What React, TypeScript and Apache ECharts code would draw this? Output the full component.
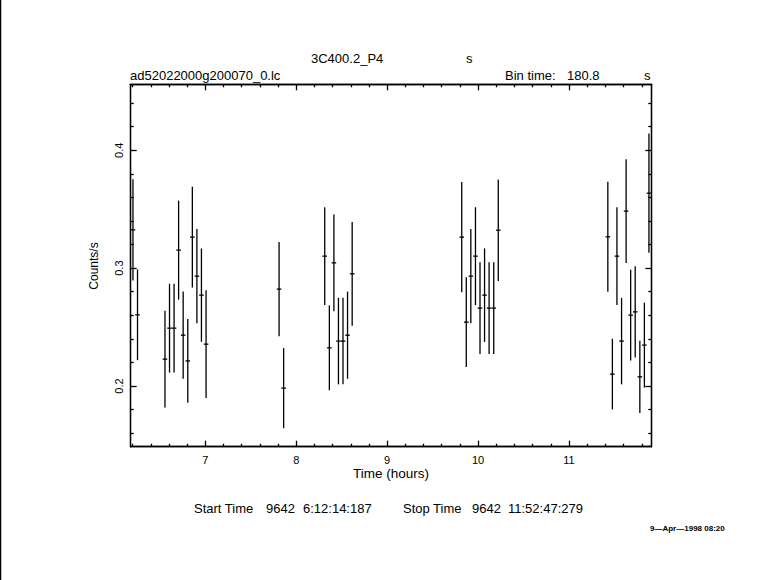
import React, { useEffect, useRef } from "react";
import * as echarts from "echarts";

// Time of bin centre (hours)
const times = [
  6.204, 6.254, 6.556, 6.606, 6.656, 6.706, 6.756, 6.807, 6.857, 6.907, 6.957, 7.008,
  7.811, 7.861,
  8.313, 8.364, 8.414, 8.464, 8.514, 8.564, 8.615,
  9.820, 9.870, 9.920, 9.971, 10.021, 10.071, 10.121, 10.172, 10.222,
  11.427, 11.477, 11.527, 11.578, 11.628, 11.678, 11.728, 11.779, 11.829, 11.879,
];
// Count rate (counts/s)
const rates = [
  0.3325, 0.2604, 0.2228, 0.2491, 0.2491, 0.3153, 0.2431, 0.2213, 0.3263, 0.2932, 0.2771, 0.2355,
  0.2822, 0.1982,
  0.3102, 0.2324, 0.3045, 0.2381, 0.2381, 0.2431, 0.2952,
  0.3263, 0.2542, 0.2932, 0.3102, 0.2661, 0.2771, 0.2661, 0.2661, 0.3322,
  0.3266, 0.2101, 0.3102, 0.2381, 0.3484, 0.2601, 0.2629, 0.2078, 0.2347, 0.3636,
];
// 1-sigma error on rate
const errors = [
  0.043, 0.0385, 0.041, 0.0377, 0.0377, 0.042, 0.037, 0.0355, 0.0427, 0.040, 0.0396, 0.0457,
  0.040, 0.034,
  0.0415, 0.036, 0.041, 0.0367, 0.0367, 0.037, 0.044,
  0.0467, 0.038, 0.040, 0.0415, 0.039, 0.0397, 0.039, 0.039, 0.043,
  0.0467, 0.030, 0.0415, 0.0367, 0.044, 0.0385, 0.0387, 0.0306, 0.036, 0.0506,
];

const xMajorTicks = [7, 8, 9, 10, 11];
const xMinorTicks = [
  6.2, 6.4, 6.6, 6.8, 7.2, 7.4, 7.6, 7.8, 8.2, 8.4, 8.6, 8.8, 9.2, 9.4, 9.6, 9.8,
  10.2, 10.4, 10.6, 10.8, 11.2, 11.4, 11.6, 11.8,
];
const yMajorTicks = [0.2, 0.3, 0.4];
const yMinorTicks = [
  0.16, 0.18, 0.22, 0.24, 0.26, 0.28, 0.32, 0.34, 0.36, 0.38, 0.42, 0.44,
];

const X_MIN = 6.179;
const X_MAX = 11.905;
const Y_MIN = 0.1485;
const Y_MAX = 0.456;
const HALF_BIN = 0.0251; // 180.8 s / 2 in hours

const FONT = "Liberation Sans";
const LW = 1.3;

export default function App() {
  const ref = useRef<HTMLDivElement>(null);

  useEffect(() => {
    if (!ref.current) return;
    const chart = echarts.init(ref.current, null, { renderer: "svg" });

    const mkX = (pos: "bottom" | "top", ticks: number[], len: number, labels: boolean) => ({
      type: "value",
      position: pos,
      min: X_MIN,
      max: X_MAX,
      axisLine: { show: true, onZero: false, lineStyle: { color: "#000", width: LW } },
      axisTick: {
        show: true,
        inside: true,
        length: len,
        customValues: ticks,
        lineStyle: { color: "#000", width: LW },
      },
      axisLabel: labels
        ? {
            show: true,
            customValues: ticks,
            margin: 8,
            color: "#000",
            fontFamily: FONT,
            fontSize: 11,
          }
        : { show: false },
      splitLine: { show: false },
    });
    const mkY = (pos: "left" | "right", ticks: number[], len: number, labels: boolean) => ({
      type: "value",
      position: pos,
      min: Y_MIN,
      max: Y_MAX,
      axisLine: { show: true, onZero: false, lineStyle: { color: "#000", width: LW } },
      axisTick: {
        show: true,
        inside: true,
        length: len,
        customValues: ticks,
        lineStyle: { color: "#000", width: LW },
      },
      axisLabel: labels
        ? {
            show: true,
            customValues: ticks,
            rotate: 90,
            margin: 6,
            color: "#000",
            fontFamily: FONT,
            fontSize: 11,
            formatter: (v: number) => v.toFixed(1),
          }
        : { show: false },
      splitLine: { show: false },
    });

    const data = times.map((t, i) => [t, rates[i], errors[i]]);

    const txt = (x: number, y: number, s: string, size = 13, align = "left") => ({
      type: "text",
      x,
      y,
      style: {
        text: s,
        fontFamily: FONT,
        fontSize: size,
        fill: "#000",
        textAlign: align,
        textVerticalAlign: "middle",
      },
    });

    chart.setOption({
      animation: false,
      backgroundColor: "#fff",
      grid: { left: 130.7, right: 129.7, top: 84.3, bottom: 133.3, containLabel: false },
      xAxis: [
        mkX("bottom", xMajorTicks, 6, true),
        mkX("bottom", xMinorTicks, 3, false),
        mkX("top", xMajorTicks, 6, false),
        mkX("top", xMinorTicks, 3, false),
      ],
      yAxis: [
        mkY("left", yMajorTicks, 6, true),
        mkY("left", yMinorTicks, 3, false),
        mkY("right", yMajorTicks, 6, false),
        mkY("right", yMinorTicks, 3, false),
      ],
      series: [
        {
          type: "custom",
          xAxisIndex: 0,
          yAxisIndex: 0,
          data,
          renderItem: (params: any, api: any) => {
            const x = api.value(0);
            const y = api.value(1);
            const e = api.value(2);
            const top = api.coord([x, y + e]);
            const bot = api.coord([x, y - e]);
            const l = api.coord([x - HALF_BIN, y]);
            const r = api.coord([x + HALF_BIN, y]);
            const st = { stroke: "#000", lineWidth: LW };
            return {
              type: "group",
              children: [
                { type: "line", shape: { x1: top[0], y1: top[1], x2: bot[0], y2: bot[1] }, style: st },
                { type: "line", shape: { x1: l[0], y1: l[1], x2: r[0], y2: r[1] }, style: st },
              ],
            };
          },
        },
      ],
      graphic: [
        { type: "line", shape: { x1: 0.5, y1: 0, x2: 0.5, y2: 580 }, style: { stroke: "#000", lineWidth: 1.5 } },
        txt(311, 58, "3C400.2_P4"),
        txt(466, 58, "s"),
        txt(130, 75, "ad52022000g200070_0.lc"),
        txt(505, 75, "Bin time:"),
        txt(567, 75, "180.8"),
        txt(644, 75, "s"),
        txt(391, 473, "Time (hours)", 13.5, "center"),
        {
          type: "text",
          x: 94,
          y: 266,
          rotation: Math.PI / 2,
          style: {
            text: "Counts/s",
            fontFamily: FONT,
            fontSize: 12,
            fill: "#000",
            textAlign: "center",
            textVerticalAlign: "middle",
          },
        },
        txt(194, 508, "Start Time"),
        txt(266, 508, "9642"),
        txt(303, 508, "6:12:14:187"),
        txt(403, 508, "Stop Time"),
        txt(472, 508, "9642"),
        txt(508, 508, "11:52:47:279"),
        {
          type: "text",
          x: 650,
          y: 528,
          style: {
            text: "9\u2014Apr\u20141998 08:20",
            fontFamily: FONT,
            fontSize: 8,
            fontWeight: "bold",
            fill: "#000",
            textAlign: "left",
            textVerticalAlign: "middle",
          },
        },
      ],
    });

    return () => chart.dispose();
  }, []);

  return (
    <div
      ref={ref}
      style={{ position: "fixed", left: 0, top: 0, width: 781, height: 580 }}
    />
  );
}
